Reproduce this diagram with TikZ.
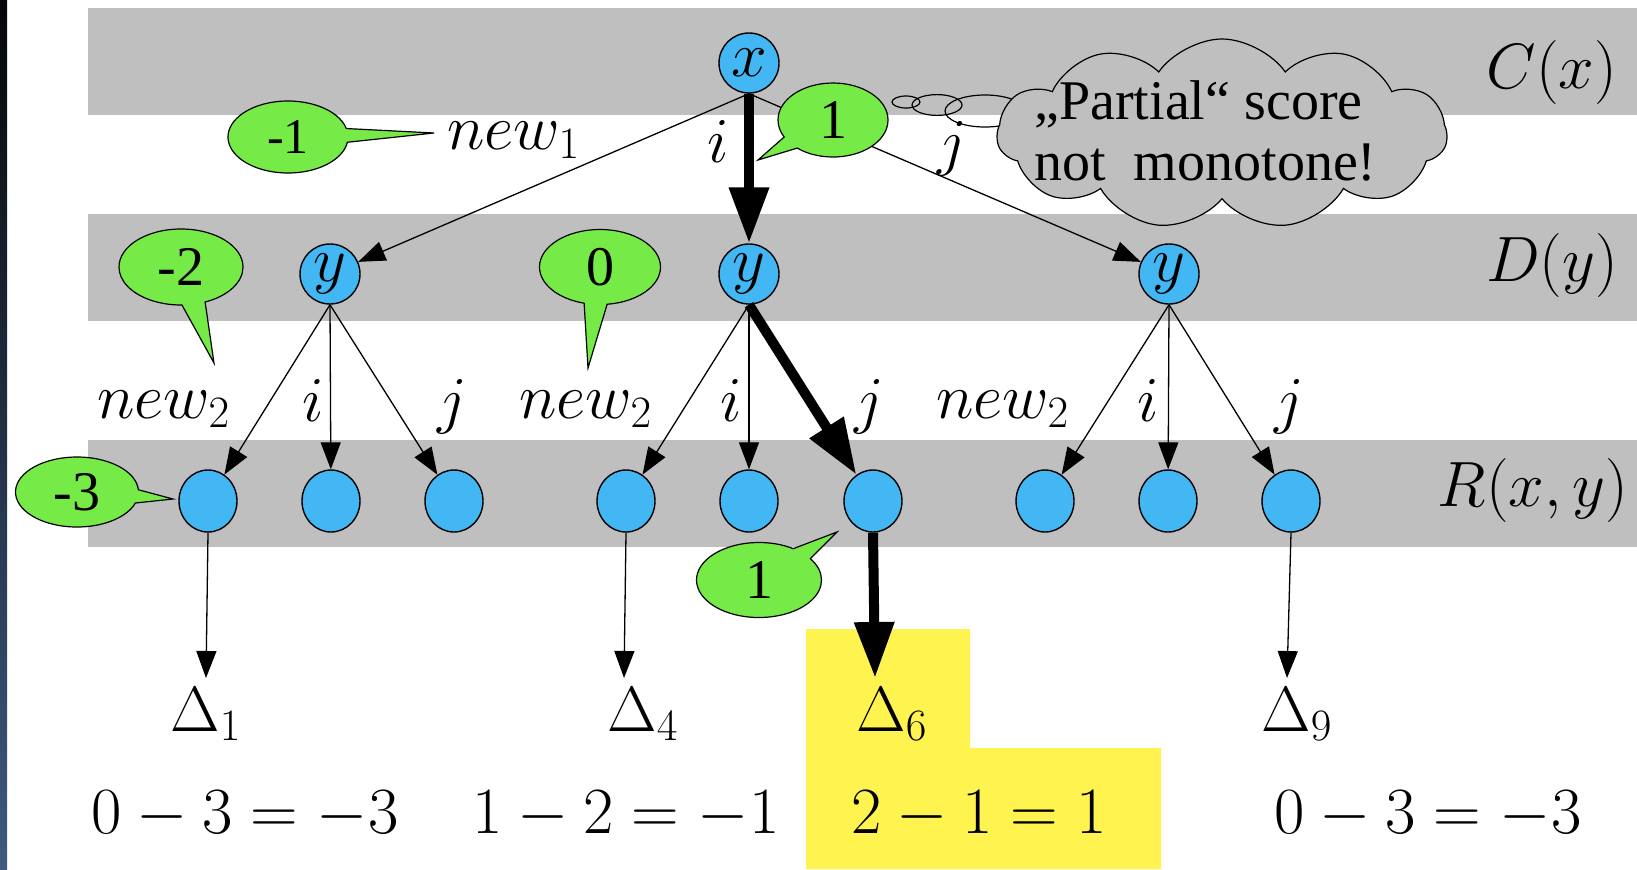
\RequirePackage{fix-cm}
\documentclass[tikz,border=0pt]{standalone}
\usepackage{fontspec}
\newfontfamily\tms{Liberation Serif}
\usetikzlibrary{shapes.callouts,shapes.symbols,shapes.geometric,arrows.meta}
\definecolor{bandgray}{HTML}{BFBFBF}
\definecolor{nodeblue}{HTML}{42B7F3}
\definecolor{bubgreen}{HTML}{76EB48}
\definecolor{hiyellow}{HTML}{FFF34F}
\definecolor{stripA}{HTML}{050608}
\definecolor{stripB}{HTML}{3E5A80}
\begin{document}
\begin{tikzpicture}[x=0.5pt,y=-0.5pt,
  vnode/.style={ellipse,draw=black,line width=0.7pt,fill=nodeblue,inner sep=0pt,
    minimum width=30pt,minimum height=30pt,font=\fontsize{32}{38}\selectfont},
  rnode/.style={ellipse,draw=black,line width=0.7pt,fill=nodeblue,inner sep=0pt,
    minimum width=29pt,minimum height=31pt},
  thinarr/.style={line width=0.65pt,-{Triangle[length=13.5pt,width=10pt]}},
  thickarr/.style={line width=5pt,-{Triangle[length=28pt,width=19pt]}},
  lbl/.style={inner sep=0pt,font=\fontsize{32}{38}\selectfont},
  eqn/.style={inner sep=0pt,anchor=base west,font=\fontsize{33}{39}\selectfont},
  bub/.style={ellipse callout,draw=black,line width=0.6pt,fill=bubgreen,inner sep=0pt,
    callout pointer arc=22,font=\tms\fontsize{28}{32}\selectfont},
  thought/.style={draw=black,line width=0.6pt}
]
\useasboundingbox (0,0) rectangle (1637,869);
\fill[white] (0,0) rectangle (1637,869);
\shade[top color=stripA,bottom color=stripB] (0,0) rectangle (7,869);
% bands
\fill[bandgray] (88,8) rectangle (1637,115);
\fill[bandgray] (88,214) rectangle (1637,321);
\fill[bandgray] (88,440) rectangle (1637,547);
% highlight
\fill[hiyellow] (806,629) -- (970,629) -- (970,748) -- (1161,748) -- (1161,869) -- (806,869) -- cycle;

% nodes
\node[vnode] (x) at (749,63) {$x$};
\node[vnode] (y1) at (330,274) {$y$};
\node[vnode] (y2) at (749,274) {$y$};
\node[vnode] (y3) at (1169,274) {$y$};
\foreach \n/\xx in {1/208,2/331,3/454,4/626,5/749,6/873,7/1045,8/1168,9/1291}
  \node[rnode] (r\n) at (\xx,501) {};

% arrow targets above the Delta labels
\coordinate (t1) at (206,678);
\coordinate (t4) at (624,678);
\coordinate (t6) at (875,678);
\coordinate (t9) at (1287,678);

% edges
\draw[thinarr] (x.south) -- (y1);
\draw[thinarr] (x.south) -- (y3);
\draw[thickarr] (x.south) -- (y2.north);
\draw[thinarr] (y1.south) -- (r1);
\draw[thinarr] (y1.south) -- (r2);
\draw[thinarr] (y1.south) -- (r3);
\draw[thinarr] (y2.south) -- (r4);
\draw[thinarr] (y2.south) -- (r5);
\draw[thickarr] (y2.south) -- (r6);
\draw[thinarr] (y3.south) -- (r7);
\draw[thinarr] (y3.south) -- (r8);
\draw[thinarr] (y3.south) -- (r9);
\draw[thinarr] (r1.south) -- (t1);
\draw[thinarr] (r4.south) -- (t4);
\draw[thickarr] (r6.south) -- (t6);
\draw[thinarr] (r9.south) -- (t9);

% edge labels
\node[lbl,anchor=base west] (ln1) at (447,149) {$new_1$};
\node[lbl,anchor=base] (li1) at (718,162) {$i$};
\node[lbl,anchor=base] (lj1) at (952,163) {$j$};
\node[lbl,anchor=base west] (ln2a) at (97,418) {$new_2$};
\node[lbl,anchor=base] (li2a) at (313,421) {$i$};
\node[lbl,anchor=base] (lj2a) at (452,421) {$j$};
\node[lbl,anchor=base west] (ln2b) at (519,418) {$new_2$};
\node[lbl,anchor=base] (li2b) at (731,421) {$i$};
\node[lbl,anchor=base] (lj2b) at (869,421) {$j$};
\node[lbl,anchor=base west] (ln2c) at (936,418) {$new_2$};
\node[lbl,anchor=base] (li2c) at (1148,421) {$i$};
\node[lbl,anchor=base] (lj2c) at (1289,421) {$j$};

% row labels
\node[lbl] (lc) at (1552,72) {$C(x)$};
\node[lbl] (ld) at (1552,265) {$D(y)$};
\node[lbl] (lr) at (1533,490) {$R(x,y)$};

% Delta labels
\node[lbl,anchor=base west] (d1) at (170,731) {$\Delta_1$};
\node[lbl,anchor=base west] (d4) at (607,731) {$\Delta_4$};
\node[lbl,anchor=base west] (d6) at (856,731) {$\Delta_6$};
\node[lbl,anchor=base west] (d9) at (1261,731) {$\Delta_9$};

% equations
\node[eqn] (e1) at (91,833) {$0-3=-3$};
\node[eqn] (e2) at (472,833) {$1-2=-1$};
\node[eqn] (e3) at (851,833) {$2-1=1$};
\node[eqn] (e4) at (1274,833) {$0-3=-3$};

% thought bubble
\draw[thought] (906,102) ellipse [x radius=7pt,y radius=3pt];
\draw[thought] (937,105) ellipse [x radius=12.5pt,y radius=5.2pt];
\draw[thought] (985,111) ellipse [x radius=20pt,y radius=8pt];
\node[cloud,cloud puffs=11,cloud puff arc=110,cloud ignores aspect,
  minimum width=225pt,minimum height=95pt,draw=black,line width=0.6pt,fill=bandgray] (cl) at (1222,134) {};
\node[align=left,anchor=west,inner sep=0pt,font=\tms\fontsize{28}{30.5}\selectfont] (clt) at (1034,131)
  {„Partial“ score\\not\ \ monotone!};

% callouts
\coordinate (p1) at (434,133);
\coordinate (p2) at (758,160);
\coordinate (p3) at (214,363);
\coordinate (p4) at (588,368);
\coordinate (p5) at (173,499);
\coordinate (p6) at (837,532);
\node[bub,font=\tms\fontsize{25}{29}\selectfont,minimum width=60pt,minimum height=36pt,callout absolute pointer={(p1)}] (b1) at (288,137) {-1};
\node[bub,minimum width=55pt,minimum height=37pt,callout absolute pointer={(p2)}] (b2) at (833,120) {1};
\node[bub,minimum width=62pt,minimum height=38pt,callout absolute pointer={(p3)}] (b3) at (181,267) {-2};
\node[bub,minimum width=60.5pt,minimum height=37.5pt,callout absolute pointer={(p4)}] (b4) at (600,267) {0};
\node[bub,minimum width=61.5pt,minimum height=35pt,callout absolute pointer={(p5)}] (b5) at (77,492) {-3};
\node[bub,minimum width=62.5pt,minimum height=37.5pt,callout absolute pointer={(p6)}] (b6) at (759,580) {1};
\end{tikzpicture}
\end{document}
